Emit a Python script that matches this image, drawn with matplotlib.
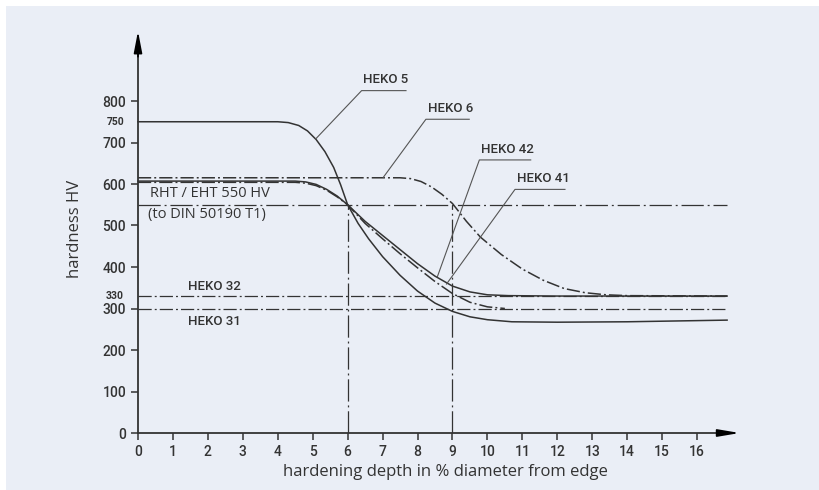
import matplotlib
matplotlib.use("Agg")
import matplotlib.pyplot as plt
from matplotlib.patches import Rectangle

# hardness curves (depth in %, hardness HV)
heko5_x = [0, 4.0, 4.3, 4.6, 4.85, 5.1, 5.35, 5.6, 5.8, 6.0, 6.3, 6.6, 7.0, 7.5, 8.0, 8.5, 9.0, 9.5, 10.0, 10.7, 12, 14, 16.86]
heko5_y = [750, 750, 748, 741, 728, 707, 678, 640, 598, 550, 505, 468, 425, 380, 342, 313, 293, 280, 273, 268, 267, 268, 272]

heko42_x = [0, 4.5, 4.8, 5.1, 5.4, 5.7, 6.0, 6.5, 7.0, 7.5, 8.0, 8.5, 9.0, 9.5, 10.0, 10.6, 12, 16.86]
heko42_y = [607, 607, 605, 599, 587, 571, 550, 510, 476, 442, 408, 378, 354, 340, 333, 331, 330, 330]

heko41_x = [0, 4.5, 4.8, 5.1, 5.4, 5.7, 6.0, 6.5, 7.0, 7.5, 8.0, 8.5, 9.0, 9.5, 10.0, 10.5]
heko41_y = [604, 604, 602, 596, 585, 569, 550, 505, 468, 432, 398, 365, 336, 315, 304, 300]

heko6_x = [0, 7.5, 7.8, 8.1, 8.4, 8.7, 9.0, 9.4, 9.8, 10.4, 11.0, 11.6, 12.2, 12.8, 13.4, 14, 16.86]
heko6_y = [615, 615, 613, 606, 593, 575, 553, 510, 472, 430, 395, 368, 348, 338, 333, 331, 330]

limit_hv = 550
heko32_hv = 330
heko31_hv = 300
limit_depths = [6, 9]
x_end = 16.86

x_ticks = list(range(0, 17))
y_ticks = list(range(0, 900, 100))

# label name, underline start (x, y), underline end x, point on curve
leaders = [
    ("HEKO 5", 6.40, 825, 7.67, 5.09, 709),
    ("HEKO 6", 8.24, 756, 9.48, 7.02, 616),
    ("HEKO 42", 9.77, 658, 11.24, 8.57, 377),
    ("HEKO 41", 10.79, 587, 12.22, 8.83, 359),
]

INK = "#333333"
BG = "#eaeef6"
DASH_SHORT = (0, (9.5, 2.2, 1.4, 2.2))
DASH_LONG = (0, (16, 2.8, 1.4, 2.8))
NARROW = ["Roboto", "DejaVu Sans"]

plt.rcParams["lines.scale_dashes"] = False

fig = plt.figure(figsize=(8.19, 4.90), dpi=100, facecolor="white")
fig.patches.append(Rectangle((6 / 819, 0), 1, 1 - 6 / 490, transform=fig.transFigure,
                             facecolor=BG, edgecolor="none", zorder=-10))

W, H = 819, 490
px_per_x = 34.94
px_per_hv = 0.415
ax = fig.add_axes([138 / W, (H - 433) / H, 17.6 * px_per_x / W, 985 * px_per_hv / H])
ax.set_facecolor("none")
ax.set_xlim(0, 17.6)
ax.set_ylim(0, 985)

for s in ["top", "right"]:
    ax.spines[s].set_visible(False)
ax.spines["left"].set_bounds(0, 930)
ax.spines["bottom"].set_bounds(0, 17.0)
for s in ["left", "bottom"]:
    ax.spines[s].set_color(INK)
    ax.spines[s].set_linewidth(1.3)

ax.annotate("", xy=(0, 975), xytext=(0, 900),
            arrowprops=dict(arrowstyle="-|>,head_length=1.3,head_width=0.25", color="black", lw=1.2),
            annotation_clip=False)
ax.annotate("", xy=(17.3, 0), xytext=(16.8, 0),
            arrowprops=dict(arrowstyle="-|>,head_length=1.3,head_width=0.22", color="black",
                            facecolor="white", lw=1.2),
            annotation_clip=False)

ax.set_xticks(x_ticks)
ax.set_yticks(y_ticks)
ax.tick_params(direction="out", length=5, width=1.1, color=INK, labelcolor=INK, labelsize=10)
for lab in ax.get_xticklabels() + ax.get_yticklabels():
    lab.set_family(NARROW)
    lab.set_fontweight("medium")

ax.text(-0.4, 750, "750", ha="right", va="center", fontsize=7.5, fontweight="bold",
        color=INK, family=NARROW)
ax.text(-0.4, 330, "330", ha="right", va="center", fontsize=7.5, fontweight="bold",
        color=INK, family=NARROW)

ax.set_xlabel("hardening depth in % diameter from edge", fontsize=12, color=INK,
              family="Open Sans", labelpad=4)
ax.set_ylabel("hardness HV", fontsize=12, color=INK, family="Open Sans", labelpad=14)

# reference lines
ax.plot([0, x_end], [limit_hv, limit_hv], color=INK, lw=0.9, ls=DASH_LONG, clip_on=False)
ax.plot([0, x_end], [heko32_hv, heko32_hv], color=INK, lw=0.9, ls=DASH_SHORT, clip_on=False)
ax.plot([0, x_end], [heko31_hv, heko31_hv], color=INK, lw=0.9, ls=DASH_SHORT, clip_on=False)
for d in limit_depths:
    ax.plot([d, d], [0, limit_hv], color=INK, lw=0.9, ls=DASH_LONG)

# hardness curves
ax.plot(heko5_x, heko5_y, color=INK, lw=1.1, clip_on=False)
ax.plot(heko42_x, heko42_y, color=INK, lw=1.1, clip_on=False)
ax.plot(heko41_x, heko41_y, color=INK, lw=1.1, ls=DASH_SHORT, clip_on=False)
ax.plot(heko6_x, heko6_y, color=INK, lw=1.1, ls=DASH_SHORT, clip_on=False)

# leader labels
for name, ux, uy, uend, cx, cy in leaders:
    ax.plot([cx, ux, uend], [cy, uy, uy], color="#555555", lw=0.8)
    ax.text(ux + 0.05, uy + 10, name, ha="left", va="bottom", fontsize=9.5,
            fontweight="medium", color=INK, family=NARROW)

ax.text(0.34, 578, "RHT / EHT 550 HV", ha="left", va="center", fontsize=10.5,
        color=INK, family="Open Sans")
ax.text(0.3, 527, "(to DIN 50190 T1)", ha="left", va="center", fontsize=10.5,
        color=INK, family="Open Sans")
ax.text(1.43, 354, "HEKO 32", ha="left", va="center", fontsize=9.5, fontweight="medium",
        color=INK, family=NARROW)
ax.text(1.43, 268, "HEKO 31", ha="left", va="center", fontsize=9.5, fontweight="medium",
        color=INK, family=NARROW)

fig.savefig("out.png", dpi=100, facecolor=fig.get_facecolor())
